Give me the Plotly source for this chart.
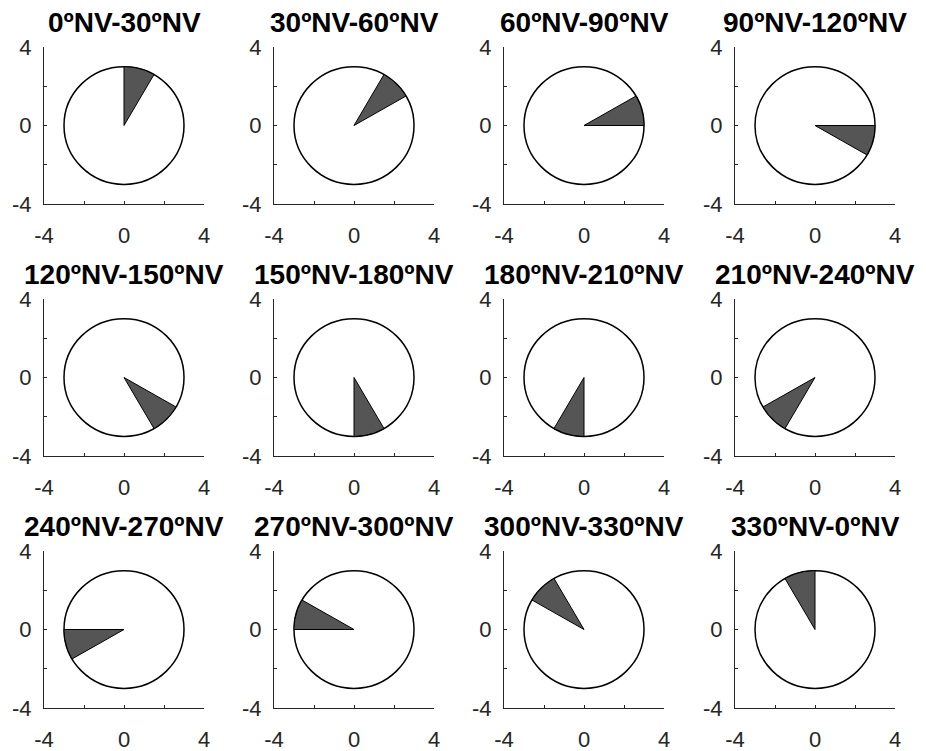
import numpy as np
import plotly.graph_objects as go

# ---- data ----
titles = ["0ºNV-30ºNV", "30ºNV-60ºNV", "60ºNV-90ºNV", "90ºNV-120ºNV",
          "120ºNV-150ºNV", "150ºNV-180ºNV", "180ºNV-210ºNV", "210ºNV-240ºNV",
          "240ºNV-270ºNV", "270ºNV-300ºNV", "300ºNV-330ºNV", "330ºNV-0ºNV"]
start_deg = [0, 30, 60, 90, 120, 150, 180, 210, 240, 270, 300, 330]
end_deg = [30, 60, 90, 120, 150, 180, 210, 240, 270, 300, 330, 360]
radius = 3
tick_vals = [-4, -2, 0, 2, 4]
tick_text = ["-4", "", "0", "", "4"]
axis_range = [-4, 4]

# page has an 8px body margin, so the figure is slightly smaller and positions offset
OFF = 8
W, H = 918, 743
col_left_px = [44 - OFF, 274 - OFF, 504 - OFF, 735 - OFF]
plot_w_px = 160
row_top_px = [47 - OFF, 299 - OFF, 551 - OFF]
plot_h_px = 157

fig = go.Figure()
fig.update_layout(width=W, height=H, margin=dict(l=0, r=0, t=0, b=0, pad=0, autoexpand=False),
                  plot_bgcolor="white", paper_bgcolor="white", showlegend=False,
                  font=dict(family="Liberation Sans, Arial, sans-serif", color="#262626"))

shapes = []
annotations = []
for i in range(12):
    r, c = divmod(i, 4)
    k = i + 1
    xa = "xaxis" if k == 1 else f"xaxis{k}"
    ya = "yaxis" if k == 1 else f"yaxis{k}"
    xr = "x" if k == 1 else f"x{k}"
    yr = "y" if k == 1 else f"y{k}"
    x0 = col_left_px[c] / W
    x1 = (col_left_px[c] + plot_w_px) / W
    y1 = 1 - row_top_px[r] / H
    y0 = 1 - (row_top_px[r] + plot_h_px) / H
    common = dict(range=axis_range, tickvals=tick_vals, ticktext=tick_text,
                  ticks="inside", ticklen=3, tickwidth=1, tickcolor="#262626",
                  showline=True, linecolor="#262626", linewidth=1.3,
                  showgrid=False, zeroline=False, mirror=False, automargin=False,
                  tickfont=dict(size=22, color="#262626"), fixedrange=True)
    fig.layout[xa] = dict(domain=[x0, x1], anchor=yr, ticklabelstandoff=11, **common)
    fig.layout[ya] = dict(domain=[y0, y1], anchor=xr, ticklabelstandoff=7, **common)

    # circle
    shapes.append(dict(type="circle", xref=xr, yref=yr,
                       x0=-radius, y0=-radius, x1=radius, y1=radius,
                       line=dict(color="black", width=1.5), fillcolor="white", layer="below"))
    # wedge (angles clockwise from north)
    th = np.radians(np.linspace(start_deg[i], end_deg[i], 40))
    wx = np.concatenate([[0], radius * np.sin(th), [0]])
    wy = np.concatenate([[0], radius * np.cos(th), [0]])
    fig.add_trace(go.Scatter(x=wx, y=wy, xaxis=xr, yaxis=yr, mode="lines",
                             fill="toself", fillcolor="#555555",
                             line=dict(color="black", width=1), hoverinfo="skip"))
    annotations.append(dict(text=f"<b>{titles[i]}</b>", xref="paper", yref="paper",
                            x=(x0 + x1) / 2, y=y1, xanchor="center", yanchor="bottom",
                            yshift=7, showarrow=False,
                            font=dict(size=28, color="black",
                                      family="Liberation Sans, Arial, sans-serif")))

fig.update_layout(shapes=shapes, annotations=annotations)
fig.write_html("out.html")
